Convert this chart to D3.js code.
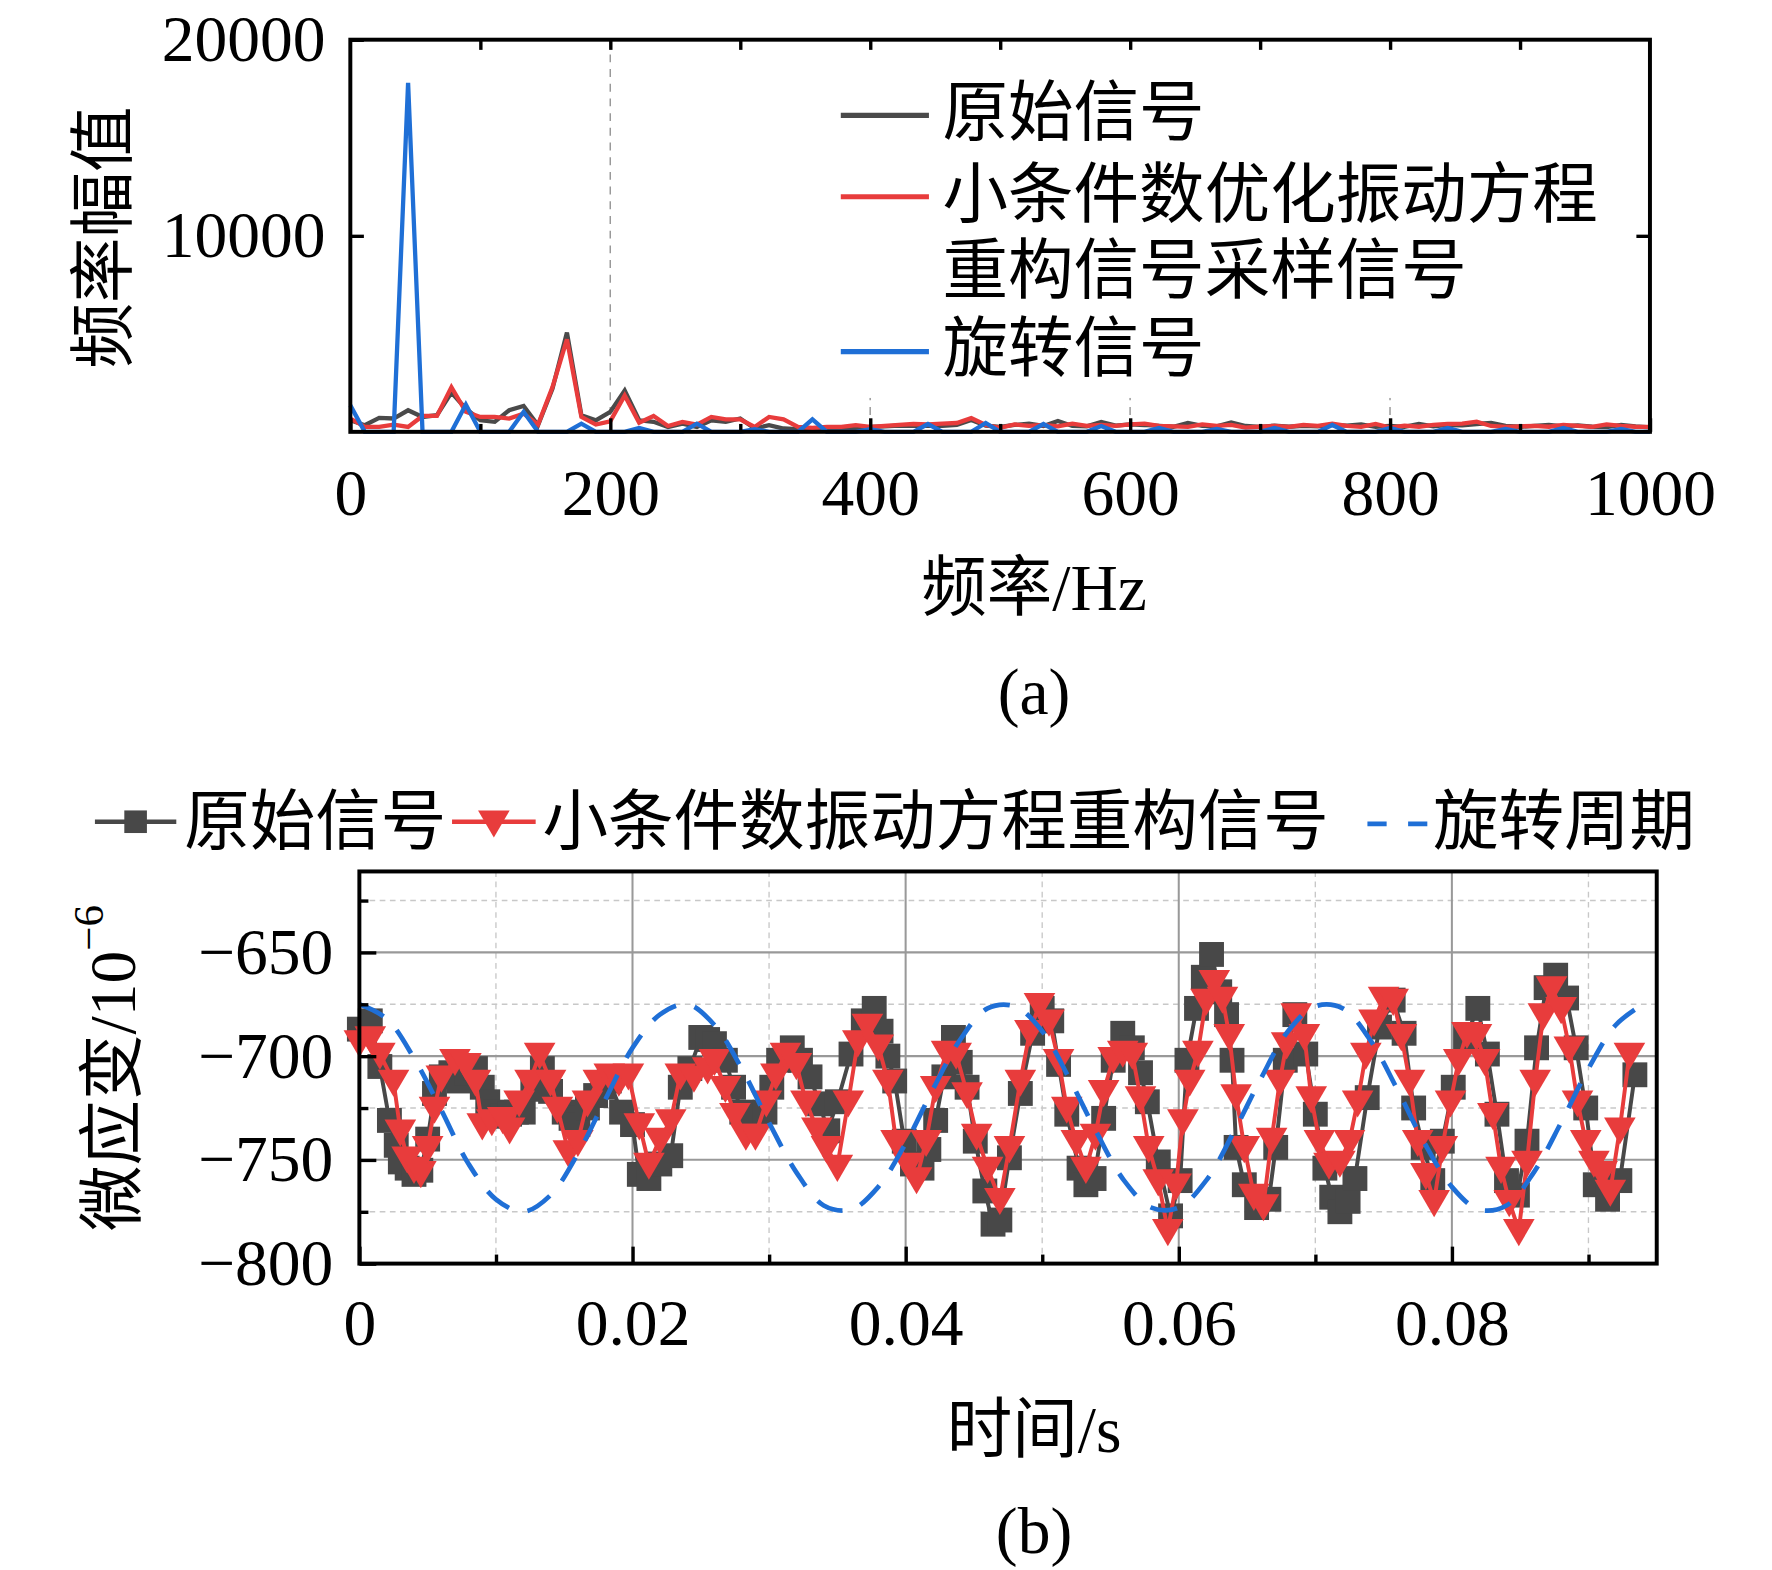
<!DOCTYPE html>
<html>
<head>
<meta charset="utf-8">
<script src="https://cdn.jsdelivr.net/npm/d3@7"></script>
<style>
  html, body { margin: 0; padding: 0; background: #fff; }
  svg { display: block; }
</style>
</head>
<body>
<div id="chart"></div>
<script>
// ── (a) spectrum: amplitude per frequency bin (bin width 1000/90 Hz) ──
const FREQ_STEP = 1000 / 90;
const specOriginal = [
  590, 340, 710, 680, 1100, 760, 850, 2000, 1180, 590,
  510, 1100, 1320, 340, 2200, 5060, 850, 590, 1020, 2110,
  590, 510, 250, 420, 250, 590, 510, 680, 170, 340,
  170, 140, 140, 140, 170, 170, 250,
  280, 320, 300, 320, 300, 350, 600, 320, 250, 350,
  420, 300, 550, 300, 280, 500, 320, 380, 350, 300,
  260, 450, 300, 280, 480, 300, 250, 320, 260, 300,
  280, 350, 320, 380, 260, 300, 250, 400, 280, 350,
  330, 400, 460, 300, 260, 300, 350, 280, 330, 260,
  240, 350, 280, 230
];
const specRecon = [
  680, 250, 250, 370, 250, 810, 810, 2280, 1020, 760,
  760, 680, 930, 370, 2280, 4720, 760, 370, 540, 1860,
  470, 810, 300, 510, 370, 760, 640, 640, 250, 760,
  640, 250, 200, 250, 250, 340, 250,
  300, 350, 400, 380, 420, 450, 700, 350, 200, 380,
  300, 350, 280, 420, 300, 350, 300, 380, 420, 300,
  280, 250, 380, 300, 350, 220, 260, 300, 250, 350,
  300, 420, 300, 250, 400, 220, 320, 260, 350, 400,
  420, 520, 300, 250, 280, 300, 260, 350, 300, 250,
  380, 300, 260, 250
];
const specRotation = [
  1350, 0, 0, 0, 17800, 0, 0, 0, 1390, 0,
  0, 0, 1020, 0, 0, 0, 420, 0, 0, 0,
  200, 0, 0, 0, 420, 0, 0, 0, 140, 0,
  0, 0, 640, 0, 0, 0, 140,
  0, 0, 0, 400, 0, 0, 0, 450, 0, 0,
  0, 400, 0, 0, 0, 300, 0, 0, 0, 200,
  0, 0, 0, 150, 0, 0, 0, 200, 0, 0,
  0, 350, 0, 0, 0, 200, 0, 0, 0, 200,
  0, 0, 0, 150, 0, 0, 0, 200, 0, 0,
  0, 150, 0, 0
];
const freqTicks = [0, 200, 400, 600, 800, 1000];
const ampTicks = [10000, 20000];

// ── (b) time signals, time in ms, strain in 1e-6 ──
const origT = [
  0, 0.8, 1.5, 2.2, 2.7, 3.0, 3.5, 4.0, 4.5, 5.0, 5.5, 6.0, 6.7, 7.3, 7.9, 8.5, 9.0, 9.4, 10.0, 10.5,
  11.0, 11.5, 12.0, 12.7, 13.4, 14.0, 15.0, 15.5, 16.0, 16.7, 17.3, 17.8, 18.3, 19.2, 20.0, 20.5, 21.2, 22.0, 22.8, 23.5,
  24.2, 25.0, 25.5, 26.0, 26.8, 27.4, 28.0, 28.7, 29.7, 30.2, 30.7, 31.7, 32.3, 33.0, 33.7, 34.3, 35.0, 36.0, 36.9, 37.7,
  38.2, 38.7, 39.2, 39.9, 40.5, 41.2, 41.7, 42.2, 42.8, 43.5, 44.0, 44.5, 45.1, 45.8, 46.4, 46.9, 47.6, 48.4, 49.3, 50.0,
  50.7, 51.2, 51.8, 52.7, 53.2, 53.8, 54.5, 55.2, 55.9, 56.6, 57.2, 57.7, 58.5, 59.4, 60.1, 60.6, 61.3, 61.8, 62.4, 63.0,
  63.5, 63.9, 64.2, 64.8, 65.7, 66.6, 67.1, 67.8, 68.5, 69.3, 70.0, 70.7, 71.2, 71.8, 72.4, 72.9, 73.8, 74.7, 75.7, 76.5,
  77.2, 77.9, 78.6, 79.3, 80.1, 81.0, 81.9, 82.6, 83.3, 84.0, 84.8, 85.5, 86.2, 86.9, 87.6, 88.4, 89.1, 89.8, 90.5, 91.4,
  92.3, 93.4
];
const origV = [
  -687, -683, -705, -731, -743, -751, -754, -757, -755, -740, -718, -710, -708, -712, -708, -706, -715, -722, -727, -729,
  -728, -727, -727, -716, -706, -717, -727, -730, -733, -725, -719, -715, -712, -727, -733, -757, -759, -752, -748, -715,
  -706, -691, -692, -694, -702, -715, -727, -731, -727, -715, -702, -696, -702, -710, -723, -736, -722, -699, -683, -677,
  -688, -700, -712, -741, -752, -754, -745, -731, -710, -691, -703, -715, -741, -765, -781, -779, -749, -718, -689, -677,
  -683, -704, -728, -754, -762, -759, -730, -702, -689, -696, -708, -722, -751, -777, -760, -702, -677, -662, -651, -669,
  -680, -702, -744, -762, -773, -769, -744, -702, -680, -699, -728, -754, -768, -775, -770, -759, -720, -686, -673, -689,
  -725, -744, -760, -741, -715, -691, -677, -699, -728, -760, -767, -741, -696, -667, -661, -672, -696, -725, -762, -769,
  -760, -709
];
const reconT = [
  0, 0.8, 1.5, 2.5, 3.0, 3.5, 4.0, 4.5, 5.0, 5.5, 6.0, 7.0, 7.8, 8.5, 9.0, 9.7, 10.5, 11.0, 11.7, 12.5,
  13.2, 14.0, 14.5, 15.3, 16.0, 16.7, 17.5, 18.3, 19.0, 19.7, 20.5, 21.2, 22.0, 22.8, 23.5, 24.5, 25.5, 26.0, 26.8, 27.5,
  28.3, 29.0, 29.8, 30.5, 31.2, 32.0, 32.7, 33.5, 34.2, 35.0, 35.8, 36.5, 37.2, 38.0, 38.7, 39.3, 40.2, 40.8, 41.5, 42.2,
  43.0, 43.7, 44.5, 45.2, 46.0, 46.9, 47.6, 48.4, 49.1, 49.8, 50.5, 51.2, 51.8, 52.5, 53.2, 53.9, 54.5, 55.2, 55.9, 56.6,
  57.2, 57.8, 58.5, 59.2, 59.8, 60.3, 60.8, 61.4, 62.0, 62.6, 63.2, 63.7, 64.2, 64.8, 65.5, 66.2, 66.8, 67.4, 67.9, 68.6,
  69.2, 69.7, 70.3, 71.0, 71.8, 72.5, 73.1, 73.7, 74.3, 75.0, 75.7, 76.3, 76.9, 77.5, 78.1, 78.7, 79.3, 79.9, 80.5, 81.1,
  81.8, 82.4, 83.0, 83.6, 84.2, 84.9, 85.5, 86.1, 86.7, 87.3, 88.0, 88.6, 89.2, 89.8, 90.4, 91.0, 91.6, 92.3, 93.0
];
const reconV = [
  -693, -691, -699, -712, -736, -749, -754, -756, -744, -725, -710, -702, -704, -712, -733, -731, -730, -735, -722, -712,
  -699, -712, -725, -746, -741, -722, -712, -709, -712, -709, -733, -752, -740, -731, -709, -710, -706, -702, -715, -728,
  -738, -738, -722, -709, -699, -704, -722, -735, -744, -753, -722, -693, -685, -695, -712, -741, -752, -759, -741, -715,
  -698, -699, -718, -738, -754, -769, -744, -712, -688, -675, -683, -702, -725, -741, -754, -738, -717, -701, -698, -699,
  -720, -744, -760, -784, -762, -731, -712, -698, -673, -664, -672, -690, -719, -744, -767, -772, -740, -712, -694, -680,
  -690, -720, -741, -752, -751, -741, -722, -699, -683, -672, -673, -690, -712, -741, -757, -770, -744, -722, -702, -689,
  -690, -702, -728, -754, -770, -784, -751, -712, -680, -667, -677, -696, -722, -741, -751, -756, -765, -735, -699
];
const rotT = [
  0, 2, 4, 6, 8, 10, 12, 14, 16, 18, 20, 22, 24, 26, 28, 30, 32, 34, 36, 38, 40, 42, 44, 46,
  48, 50, 52, 54, 56, 58, 60, 62, 64, 66, 68, 70, 72, 74, 76, 78, 80, 82, 84, 86, 88, 90, 92, 94
];
const rotV = [
  -675, -682, -701, -726, -752, -769, -775, -767, -747, -721, -696, -680, -675, -685, -706, -732, -756, -772, -774, -763, -742, -716, -692, -677,
  -676, -688, -711, -737, -760, -773, -773, -760, -737, -711, -688, -676, -677, -692, -716, -742, -763, -774, -772, -756, -732, -706, -685, -675
];
const timeTicks = [0, 20, 40, 60, 80];
const timeTickLabels = ['0', '0.02', '0.04', '0.06', '0.08'];
const strainTicks = [-650, -700, -750, -800];

const seriesA = [
  { name: '原始信号', color: '#4a4a4a', values: specOriginal },
  { name: '小条件数优化振动方程', name2: '重构信号采样信号', color: '#e83c3c', values: specRecon },
  { name: '旋转信号', color: '#1f6fd6', values: specRotation },
];

const FONT = "'Liberation Serif','Times New Roman','Noto Sans CJK SC',serif";
const FS = 58;
const W = 1568, H = 1389;

const svg = d3.select('#chart').append('svg')
  .attr('width', 1772).attr('height', 1570)
  .attr('viewBox', `0 0 ${W} ${H}`)
  .attr('font-family', FONT);

function styleAxis(g, fs) {
  g.select('.domain').remove();
  g.selectAll('.tick line').attr('stroke', '#000').attr('stroke-width', 3);
  g.selectAll('.tick text').attr('font-size', fs).attr('fill', '#000').attr('font-family', FONT);
}

/* ── (a) Spectrum ── */
{
  const L = 310, R = 1460, T = 35, B = 382;
  const x = d3.scaleLinear().domain([0, 1000]).range([L, R]);
  const y = d3.scaleLinear().domain([0, 20000]).range([B, T]);

  // dashed vertical grid
  svg.append('g').selectAll('line').data([200, 400, 600, 800]).join('line')
    .attr('x1', d => x(d)).attr('x2', d => x(d)).attr('y1', T).attr('y2', B)
    .attr('stroke', '#999').attr('stroke-width', 1.3).attr('stroke-dasharray', '7,6');

  // legend background hides grid behind it
  svg.append('rect').attr('x', 735).attr('y', 38).attr('width', 720).attr('height', 314).attr('fill', '#fff');

  const line = d3.line().x((d, i) => x(i * FREQ_STEP)).y(d => y(d));
  seriesA.forEach(s => {
    svg.append('path').datum(s.values).attr('d', line)
      .attr('fill', 'none').attr('stroke', s.color).attr('stroke-width', 3.8)
      .attr('stroke-linejoin', 'miter');
  });

  // axes
  svg.append('g').attr('transform', `translate(0,${B})`)
    .call(d3.axisBottom(x).tickValues(freqTicks).tickSize(-12).tickPadding(32).tickFormat(d3.format('d')))
    .call(g => styleAxis(g, FS));
  svg.append('g').attr('transform', `translate(0,${B})`)
    .call(d3.axisBottom(x).tickValues([100, 300, 500, 700, 900]).tickSize(-7).tickFormat(''))
    .call(g => styleAxis(g, FS));
  svg.append('g').attr('transform', `translate(0,${T})`)
    .call(d3.axisTop(x).tickValues(d3.range(100, 1000, 100)).tickSize(-9).tickFormat(''))
    .call(g => styleAxis(g, FS));
  svg.append('g').attr('transform', `translate(${L},0)`)
    .call(d3.axisLeft(y).tickValues(ampTicks).tickSize(-12).tickPadding(22).tickFormat(d3.format('d')))
    .call(g => styleAxis(g, FS));
  svg.append('g').attr('transform', `translate(${R},0)`)
    .call(d3.axisRight(y).tickValues([10000]).tickSize(-12).tickFormat(''))
    .call(g => styleAxis(g, FS));

  svg.append('rect').attr('x', L).attr('y', T).attr('width', R - L).attr('height', B - T)
    .attr('fill', 'none').attr('stroke', '#000').attr('stroke-width', 3.5);

  // legend
  const lg = svg.append('g');
  const rows = [100, 172, 240, 309];
  [[0, 0], [1, 1], [2, 3]].forEach(([si, ri]) => {
    lg.append('line').attr('x1', 744).attr('x2', 822).attr('y1', rows[ri] + 2).attr('y2', rows[ri] + 2)
      .attr('stroke', seriesA[si].color).attr('stroke-width', 4.5);
  });
  const legTexts = [seriesA[0].name, seriesA[1].name, seriesA[1].name2, seriesA[2].name];
  legTexts.forEach((t, i) => {
    lg.append('text').attr('x', 834).attr('y', rows[i]).attr('dominant-baseline', 'central')
      .attr('font-size', FS).text(t);
  });

  svg.append('text').attr('transform', `translate(92,210) rotate(-90)`)
    .attr('text-anchor', 'middle').attr('dominant-baseline', 'central').attr('font-size', FS)
    .text('频率幅值');
  svg.append('text').attr('x', 915).attr('y', 520)
    .attr('text-anchor', 'middle').attr('dominant-baseline', 'central').attr('font-size', FS)
    .text('频率/Hz');
  svg.append('text').attr('x', 915).attr('y', 612)
    .attr('text-anchor', 'middle').attr('dominant-baseline', 'central').attr('font-size', FS)
    .text('(a)');
}

/* ── (b) Time signals ── */
{
  const L = 318, R = 1466, T = 771, B = 1118;
  const x = d3.scaleLinear().domain([0, 95]).range([L, R]);
  const y = d3.scaleLinear().domain([-800, -611]).range([B, T]);

  const grid = svg.append('g');
  grid.selectAll('.vminor').data([10, 30, 50, 70, 90]).join('line')
    .attr('x1', d => x(d)).attr('x2', d => x(d)).attr('y1', T).attr('y2', B)
    .attr('stroke', '#c8c8c8').attr('stroke-width', 1.2).attr('stroke-dasharray', '5,4');
  grid.selectAll('.hminor').data([-625, -675, -725, -775]).join('line')
    .attr('x1', L).attr('x2', R).attr('y1', d => y(d)).attr('y2', d => y(d))
    .attr('stroke', '#c8c8c8').attr('stroke-width', 1.2).attr('stroke-dasharray', '5,4');
  grid.selectAll('.vmajor').data([20, 40, 60, 80]).join('line')
    .attr('x1', d => x(d)).attr('x2', d => x(d)).attr('y1', T).attr('y2', B)
    .attr('stroke', '#999').attr('stroke-width', 1.8);
  grid.selectAll('.hmajor').data([-650, -700, -750]).join('line')
    .attr('x1', L).attr('x2', R).attr('y1', d => y(d)).attr('y2', d => y(d))
    .attr('stroke', '#999').attr('stroke-width', 1.8);

  const origPts = origT.map((t, i) => [t, origV[i]]);
  const reconPts = reconT.map((t, i) => [t, reconV[i]]);
  const rotPts = rotT.map((t, i) => [t, rotV[i]]);
  const line = d3.line().x(d => x(d[0])).y(d => y(d[1]));

  svg.append('path').datum(origPts).attr('d', line)
    .attr('fill', 'none').attr('stroke', '#484848').attr('stroke-width', 3.5);
  svg.append('g').selectAll('rect').data(origPts).join('rect')
    .attr('x', d => x(d[0]) - 11).attr('y', d => y(d[1]) - 11)
    .attr('width', 22).attr('height', 22).attr('fill', '#484848');

  const tri = 'M-14,-10L14,-10L0,14Z';
  svg.append('path').datum(reconPts).attr('d', line)
    .attr('fill', 'none').attr('stroke', '#e83c3c').attr('stroke-width', 3.5);
  svg.append('g').selectAll('path').data(reconPts).join('path')
    .attr('transform', d => `translate(${x(d[0])},${y(d[1])})`)
    .attr('d', tri).attr('fill', '#e83c3c');

  svg.append('path').datum(rotPts).attr('d', line.curve(d3.curveCatmullRom))
    .attr('fill', 'none').attr('stroke', '#1f6fd6').attr('stroke-width', 4.2)
    .attr('stroke-dasharray', '24,17');

  // axes
  svg.append('g').attr('transform', `translate(0,${B})`)
    .call(d3.axisBottom(x).tickValues(timeTicks).tickSize(-15).tickPadding(31)
      .tickFormat((d, i) => timeTickLabels[i]))
    .call(g => styleAxis(g, FS));
  svg.append('g').attr('transform', `translate(0,${B})`)
    .call(d3.axisBottom(x).tickValues([10, 30, 50, 70, 90]).tickSize(-8).tickFormat(''))
    .call(g => styleAxis(g, FS));
  svg.append('g').attr('transform', `translate(${L},0)`)
    .call(d3.axisLeft(y).tickValues(strainTicks).tickSize(-15).tickPadding(23)
      .tickFormat(d => '\u2212' + Math.abs(d)))
    .call(g => styleAxis(g, FS));
  svg.append('g').attr('transform', `translate(${L},0)`)
    .call(d3.axisLeft(y).tickValues([-625, -675, -725, -775]).tickSize(-8).tickFormat(''))
    .call(g => styleAxis(g, FS));

  svg.append('rect').attr('x', L).attr('y', T).attr('width', R - L).attr('height', B - T)
    .attr('fill', 'none').attr('stroke', '#000').attr('stroke-width', 3.5);

  // legend
  const ly = 727;
  const lg = svg.append('g');
  lg.append('line').attr('x1', 84).attr('x2', 156).attr('y1', ly).attr('y2', ly)
    .attr('stroke', '#484848').attr('stroke-width', 4);
  lg.append('rect').attr('x', 110).attr('y', ly - 10).attr('width', 20).attr('height', 20).attr('fill', '#484848');
  lg.append('text').attr('x', 163).attr('y', ly).attr('dominant-baseline', 'central')
    .attr('font-size', FS).text('原始信号');
  lg.append('line').attr('x1', 400).attr('x2', 474).attr('y1', ly).attr('y2', ly)
    .attr('stroke', '#e83c3c').attr('stroke-width', 4);
  lg.append('path').attr('transform', `translate(437,${ly})`).attr('d', tri).attr('fill', '#e83c3c');
  lg.append('text').attr('x', 480).attr('y', ly).attr('dominant-baseline', 'central')
    .attr('font-size', FS).text('小条件数振动方程重构信号');
  lg.append('line').attr('x1', 1210).attr('x2', 1264).attr('y1', ly + 2).attr('y2', ly + 2)
    .attr('stroke', '#1f6fd6').attr('stroke-width', 4.2).attr('stroke-dasharray', '17,19');
  lg.append('text').attr('x', 1268).attr('y', ly).attr('dominant-baseline', 'central')
    .attr('font-size', FS).text('旋转周期');

  const yt = svg.append('text').attr('transform', `translate(100,945) rotate(-90)`)
    .attr('text-anchor', 'middle').attr('dominant-baseline', 'central').attr('font-size', FS);
  yt.append('tspan').text('微应变/10');
  yt.append('tspan').attr('font-size', 38).attr('dy', -22).text('\u22126');

  svg.append('text').attr('x', 915).attr('y', 1265)
    .attr('text-anchor', 'middle').attr('dominant-baseline', 'central').attr('font-size', FS)
    .text('时间/s');
  svg.append('text').attr('x', 915).attr('y', 1355)
    .attr('text-anchor', 'middle').attr('dominant-baseline', 'central').attr('font-size', FS)
    .text('(b)');
}
</script>
</body>
</html>
